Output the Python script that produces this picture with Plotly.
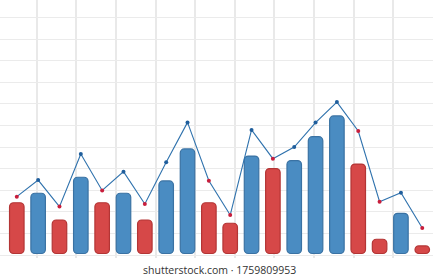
import plotly.graph_objects as go

categories = [str(i) for i in range(1, 21)]
bar_values = [24.2, 28.6, 16.2, 36.0, 24.2, 28.6, 16.2, 34.3, 49.1, 24.2,
              14.7, 45.8, 40.0, 43.7, 54.8, 64.4, 42.1, 7.3, 19.3, 4.2]
bar_groups = ["r", "b", "r", "b", "r", "b", "r", "b", "b", "r",
              "r", "b", "r", "b", "b", "b", "r", "r", "b", "r"]
line_values = [27.0, 34.7, 22.4, 46.8, 29.9, 38.6, 23.6, 42.9, 61.4, 34.4,
               18.5, 57.9, 44.6, 50.0, 61.3, 70.8, 57.4, 24.7, 28.8, 12.5]
watermark = "shutterstock.com · 1759809953"

RED, BLUE = "#d64848", "#4a8cc2"
RED_D, BLUE_D = "#b33535", "#3a72a3"
MK_RED, MK_BLUE = "#c81e3c", "#1f5e9c"

x = list(range(len(categories)))
fill = [RED if g == "r" else BLUE for g in bar_groups]
edge = [RED_D if g == "r" else BLUE_D for g in bar_groups]
mk = [MK_RED if g == "r" else MK_BLUE for g in bar_groups]

fig = go.Figure()
fig.add_trace(go.Bar(
    x=x, y=[v - 0.7 for v in bar_values], base=0.7, width=0.68,
    marker=dict(color=fill, line=dict(color=edge, width=1.2), cornerradius=4),
    hoverinfo="skip",
))
fig.add_trace(go.Scatter(
    x=x, y=line_values, mode="lines+markers",
    line=dict(color="#2f72ad", width=1.1),
    marker=dict(color=mk, size=4),
))

fig.update_layout(
    width=433, height=280, margin=dict(l=0, r=0, t=0, b=0),
    paper_bgcolor="white", plot_bgcolor="white", showlegend=False,
    xaxis=dict(range=[-0.787, 19.503], tick0=0.9325, dtick=1.8566,
               showgrid=True, gridcolor="#e9e9e9", gridwidth=1.5,
               showticklabels=False, zeroline=False, ticks=""),
    yaxis=dict(range=[-1.389, 118.06], domain=[22 / 280, 1], tick0=0, dtick=10,
               showgrid=True, gridcolor="#ebebeb", gridwidth=1,
               showticklabels=False, zeroline=False, ticks=""),
    annotations=[dict(text=watermark, x=0.507, y=1 - 270 / 280, xref="paper", yref="paper",
                      yanchor="middle", xanchor="center", showarrow=False,
                      font=dict(family="Open Sans", size=10.5, color="#333333"))],
)

fig.write_html("out.html")
